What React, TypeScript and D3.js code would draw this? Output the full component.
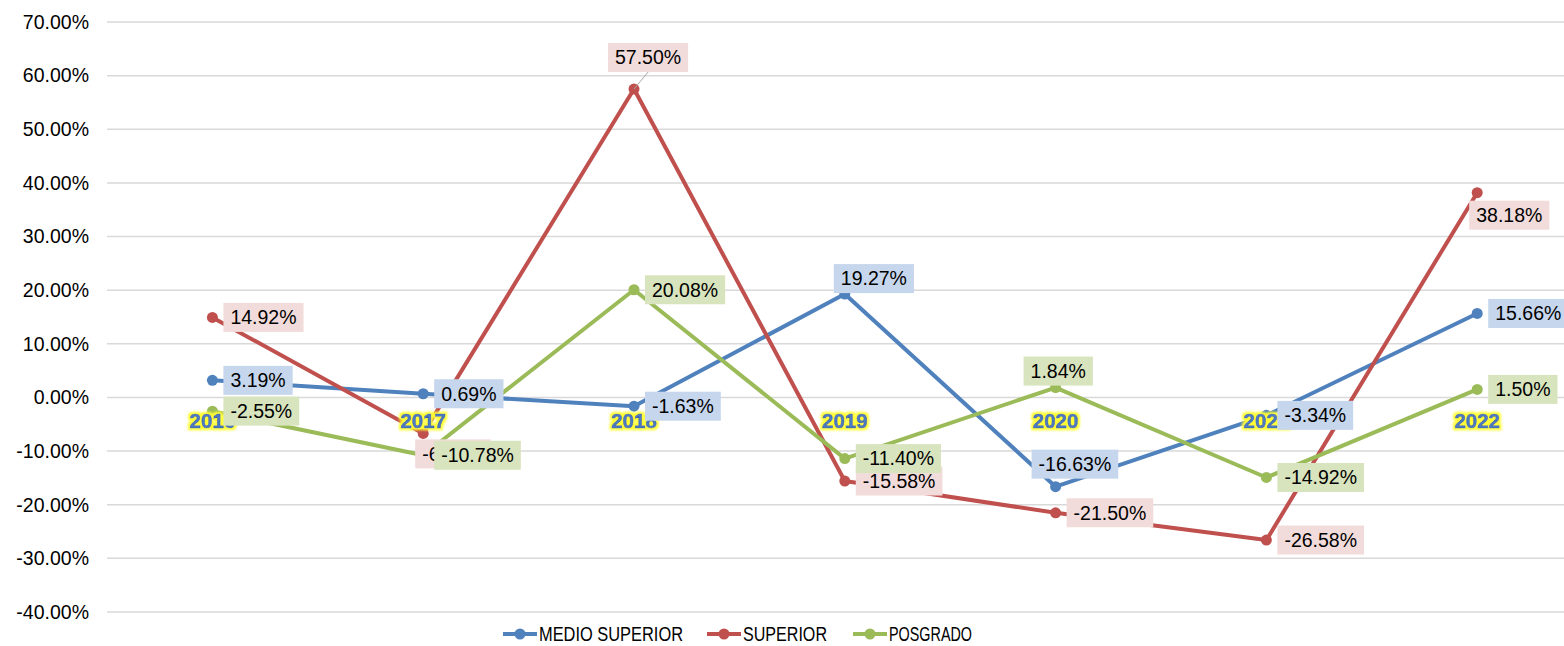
import React, { useRef, useEffect } from "react";
import * as d3 from "d3";

const years = ["2016", "2017", "2018", "2019", "2020", "2021", "2022"];
const medioSuperior = [3.19, 0.69, -1.63, 19.27, -16.63, -3.34, 15.66];
const superior = [14.92, -6.7, 57.5, -15.58, -21.5, -26.58, 38.18];
const posgrado = [-2.55, -10.78, 20.08, -11.4, 1.84, -14.92, 1.5];
const yTicks = [-40, -30, -20, -10, 0, 10, 20, 30, 40, 50, 60, 70];

const seriesNames = ["MEDIO SUPERIOR", "SUPERIOR", "POSGRADO"];
const seriesValues = [medioSuperior, superior, posgrado];
const lineColors = ["#4f81bd", "#c0504d", "#9bbb59"];
const labelFills = ["#c6d6ec", "#f2dcdb", "#d8e4bd"];

// label box offsets (top-left relative to the point) where they are not on the right
const labelOffsets: Record<string, { dx: number; dy: number; leader?: boolean }> = {
  "0-3": { dx: -11, dy: -30 },
  "0-4": { dx: -24, dy: -37 },
  "1-1": { dx: -8, dy: 6 },
  "1-2": { dx: -26, dy: -46, leader: true },
  "1-6": { dx: -8, dy: 8 },
  "2-4": { dx: -32, dy: -31 },
};

const FONT = "'Liberation Sans', Arial, sans-serif";

const App: React.FC = () => {
  const svgRef = useRef<SVGSVGElement | null>(null);

  useEffect(() => {
    const width = 1564;
    const svg = d3.select(svgRef.current);
    svg.selectAll("*").remove();

    // yellow glow for the year labels
    const defs = svg.append("defs");
    const f = defs.append("filter").attr("id", "glow")
      .attr("x", "-20%").attr("y", "-40%").attr("width", "140%").attr("height", "180%");
    f.append("feMorphology").attr("in", "SourceAlpha").attr("operator", "dilate").attr("radius", 2).attr("result", "d");
    f.append("feGaussianBlur").attr("in", "d").attr("stdDeviation", 1.1).attr("result", "b");
    f.append("feFlood").attr("flood-color", "#ffff30");
    f.append("feComposite").attr("in2", "b").attr("operator", "in").attr("result", "g");
    const merge = f.append("feMerge");
    merge.append("feMergeNode").attr("in", "g");
    merge.append("feMergeNode").attr("in", "SourceGraphic");

    const x = d3.scaleBand<string>().domain(years).range([107, 107 + 7 * 210.8]);
    const y = d3.scaleLinear().domain([-40, 70]).range([612, 22]);
    const cx = (yr: string) => (x(yr) as number) + x.bandwidth() / 2;

    // grid + y labels
    const grid = svg.append("g");
    yTicks.forEach((t) => {
      grid.append("line")
        .attr("x1", 107).attr("x2", width)
        .attr("y1", y(t)).attr("y2", y(t))
        .attr("stroke", "#d9d9d9").attr("stroke-width", 1.5);
      grid.append("text")
        .attr("x", 89).attr("y", y(t)).attr("dy", "0.35em")
        .attr("text-anchor", "end")
        .style("font-family", FONT).style("font-size", "19.5px")
        .attr("fill", "#000")
        .text(`${t.toFixed(2)}%`);
    });

    // lines
    const line = d3.line<number>()
      .x((_, i) => cx(years[i]))
      .y((d) => y(d));
    seriesValues.forEach((vals, s) => {
      svg.append("path")
        .datum(vals)
        .attr("d", line)
        .attr("fill", "none")
        .attr("stroke", lineColors[s])
        .attr("stroke-width", 4)
        .attr("stroke-linejoin", "round");
      svg.append("g").selectAll("circle")
        .data(vals)
        .join("circle")
        .attr("cx", (_, i) => cx(years[i]))
        .attr("cy", (d) => y(d))
        .attr("r", 5.5)
        .attr("fill", lineColors[s]);
    });

    // category labels on the zero line
    svg.append("g").selectAll("text")
      .data(years)
      .join("text")
      .attr("x", (d) => cx(d))
      .attr("y", y(0) + 31)
      .attr("text-anchor", "middle")
      .style("font-family", FONT).style("font-size", "20.5px").style("font-weight", "bold")
      .attr("fill", "#4a7cc2")
      .attr("stroke", "#2e5a9a").attr("stroke-width", 0.6)
      .attr("filter", "url(#glow)")
      .text((d) => d);

    // data labels
    seriesValues.forEach((vals, s) => {
      vals.forEach((v, i) => {
        const px = cx(years[i]);
        const py = y(v);
        const g = svg.append("g");
        const t = g.append("text")
          .style("font-family", FONT).style("font-size", "19.5px")
          .attr("fill", "#000")
          .text(`${v.toFixed(2)}%`);
        const tw = (t.node() as SVGTextElement).getComputedTextLength();
        const bw = tw + 14;
        const bh = 29;
        const off = labelOffsets[`${s}-${i}`] || { dx: 11, dy: -bh / 2 };
        const bx = px + off.dx;
        const by = py + off.dy;
        if (off.leader) {
          g.insert("line", "text")
            .attr("x1", px).attr("y1", py)
            .attr("x2", bx + bw / 2).attr("y2", by + bh)
            .attr("stroke", "#a6a6a6").attr("stroke-width", 1);
        }
        g.insert("rect", "text")
          .attr("x", bx).attr("y", by)
          .attr("width", bw).attr("height", bh)
          .attr("fill", labelFills[s]);
        t.attr("x", bx + 7).attr("y", by + bh / 2).attr("dy", "0.35em");
      });
    });

    // legend
    const legendX = [503, 707, 853];
    const legendW = [144, 84, 83];
    const legend = svg.append("g");
    seriesNames.forEach((name, s) => {
      const lx = legendX[s];
      legend.append("line")
        .attr("x1", lx).attr("x2", lx + 34)
        .attr("y1", 634).attr("y2", 634)
        .attr("stroke", lineColors[s]).attr("stroke-width", 4);
      legend.append("circle")
        .attr("cx", lx + 17).attr("cy", 634).attr("r", 5.5)
        .attr("fill", lineColors[s]);
      legend.append("text")
        .attr("x", lx + 36).attr("y", 634).attr("dy", "0.35em")
        .attr("textLength", legendW[s]).attr("lengthAdjust", "spacingAndGlyphs")
        .style("font-family", FONT).style("font-size", "20px")
        .attr("fill", "#000")
        .text(name);
    });
  }, []);

  return (
    <svg
      ref={svgRef}
      width={1564}
      height={646}
      style={{ position: "absolute", left: 0, top: 0, background: "#fff" }}
    />
  );
};

export default App;
